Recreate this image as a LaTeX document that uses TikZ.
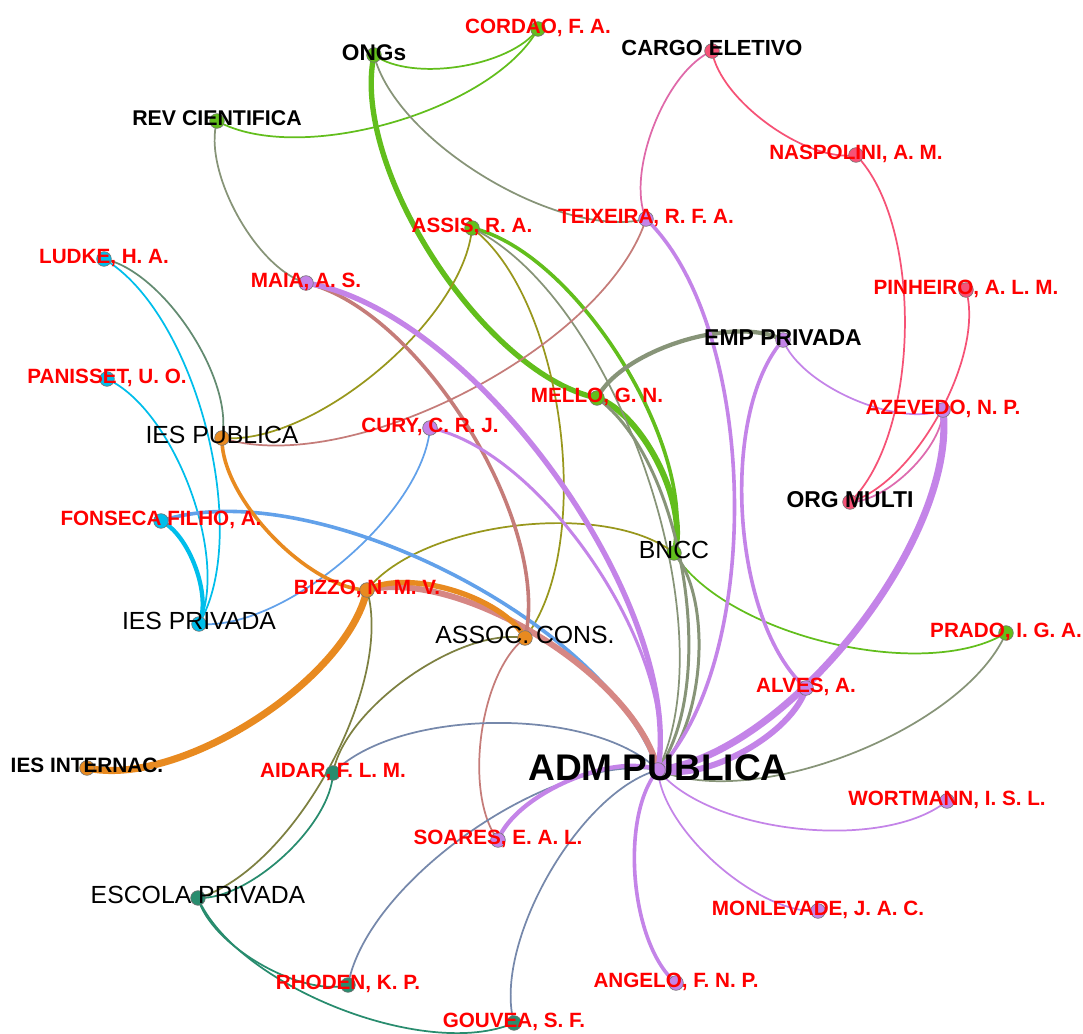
\documentclass[tikz,border=0pt]{standalone}
\usepackage{fontspec}
\setmainfont{Liberation Sans}
\pgfdeclarelayer{paper}
\pgfdeclarelayer{links}
\pgfsetlayers{paper,links,main}

% node colours (one per community)
\definecolor{cG}{RGB}{98,190,28}
\definecolor{cP}{RGB}{196,132,232}
\definecolor{cC}{RGB}{0,190,235}
\definecolor{cO}{RGB}{232,138,32}
\definecolor{cK}{RGB}{246,82,118}
\definecolor{cT}{RGB}{40,140,110}
\definecolor{labred}{RGB}{255,0,0}

\tikzset{
  dot/.style={circle, inner sep=0pt, minimum size=11pt, draw=black!55, line width=0.45pt},
  arcL/.style={bend left=45, looseness=0.72},
  arcR/.style={bend right=45, looseness=0.72},
  link/.style={line cap=round, line width=1.3pt},
  w2/.style={line width=2.25pt},
  w3/.style={line width=2.7pt},
  w4/.style={line width=3.2pt},
  w5/.style={line width=4pt},
  w6/.style={line width=4.5pt},
  w7/.style={line width=5.3pt},
  redlab/.style={font=\fontsize{15.5}{15.5}\selectfont\bfseries, text=labred, inner sep=0pt, text height=11.1pt, text depth=0pt},
  blab/.style={font=\fontsize{#1}{#1}\selectfont\bfseries, text=black, inner sep=0pt, text height=0.716*#1 pt, text depth=0pt},
  blab/.default=16.3,
  reglab/.style={font=\fontsize{18.6}{18.6}\selectfont, text=black, inner sep=0pt, text height=13.3pt, text depth=0pt},
  biglab/.style={font=\fontsize{27.8}{27.8}\selectfont\bfseries, text=black, inner sep=0pt, text height=19.9pt, text depth=0pt},
}

\begin{document}
\begin{tikzpicture}[x=0.75pt, y=-0.75pt]
\useasboundingbox (0,0) rectangle (1083,1034);
\begin{pgfonlayer}{paper}
  \fill[white] (0,0) rectangle (1083,1034);
\end{pgfonlayer}

% ---- nodes ----
\node[dot, fill=cG] (ongs)      at (374,55)  {};
\node[dot, fill=cG] (cordao)    at (538,29)  {};
\node[dot, fill=cK] (cargo)     at (712,51)  {};
\node[dot, fill=cG] (rev)       at (217,121) {};
\node[dot, fill=cK] (naspolini) at (856,155) {};
\node[dot, fill=cG] (assis)     at (472,228) {};
\node[dot, fill=cP] (teixeira)  at (646,219) {};
\node[dot, fill=cC] (ludke)     at (104,259) {};
\node[dot, fill=cP] (maia)      at (306,283) {};
\node[dot, fill=cK] (pinheiro)  at (966,290) {};
\node[dot, fill=cP] (emp)       at (783,340) {};
\node[dot, fill=cC] (panisset)  at (107,379) {};
\node[dot, fill=cG] (mello)     at (597,398) {};
\node[dot, fill=cP] (azevedo)   at (943,410) {};
\node[dot, fill=cP] (cury)      at (430,428) {};
\node[dot, fill=cO] (iespub)    at (222,438) {};
\node[dot, fill=cK] (orgmulti)  at (850,502) {};
\node[dot, fill=cC] (fonseca)   at (161,521) {};
\node[dot, fill=cG] (bncc)      at (674,553) {};
\node[dot, fill=cO] (bizzo)     at (367,590) {};
\node[dot, fill=cC] (iespriv)   at (199,624) {};
\node[dot, fill=cO] (assoc)     at (525,638) {};
\node[dot, fill=cG] (prado)     at (1006,633) {};
\node[dot, fill=cP] (alves)     at (806,688) {};
\node[dot, fill=cP] (adm)       at (658,770) {};
\node[dot, fill=cO] (iesint)    at (87,768)  {};
\node[dot, fill=cT] (aidar)     at (333,773) {};
\node[dot, fill=cP] (wortmann)  at (947,801) {};
\node[dot, fill=cP] (soares)    at (498,840) {};
\node[dot, fill=cT] (escola)    at (198,898) {};
\node[dot, fill=cP] (monlevade) at (818,911) {};
\node[dot, fill=cT] (rhoden)    at (348,985) {};
\node[dot, fill=cP] (angelo)    at (676,983) {};
\node[dot, fill=cT] (gouvea)    at (514,1023) {};

% ---- links (curved, drawn under the nodes) ----
\begin{pgfonlayer}{links}
  % green community
  \draw[link, cG] (ongs.center) to[arcR] (cordao.center);
  \draw[link, cG] (rev.center) to[arcR] (cordao.center);
  \draw[link, w5, cG] (ongs.center) to[arcR] (mello.center);
  \draw[link, w6, cG] (mello.center) to[arcL] (bncc.center);
  \draw[link, w3, cG] (assis.center) to[arcL] (bncc.center);
  \draw[link, cG] (bncc.center) to[arcR] (prado.center);
  % green -- purple
  \draw[link, cG!50!cP!92!black] (assis.center) to[arcL] (adm.center);
  \draw[link, w2, cG!50!cP!92!black] (mello.center) to[arcL] (adm.center);
  \draw[link, w2, cG!50!cP!92!black] (bncc.center) to[arcL] (adm.center);
  \draw[link, w4, cG!50!cP!92!black] (emp.center) to[arcR] (mello.center);
  \draw[link, cG!50!cP!92!black] (ongs.center) to[arcR] (teixeira.center);
  \draw[link, cG!50!cP!92!black] (rev.center) to[arcR] (maia.center);
  \draw[link, cG!50!cP!92!black] (prado.center) to[arcL] (adm.center);
  % green -- orange
  \draw[link, cG!50!cO!92!black] (assis.center) to[arcL] (iespub.center);
  \draw[link, cG!50!cO!92!black] (assis.center) to[arcL] (assoc.center);
  \draw[link, cG!50!cO!92!black] (bizzo.center) to[arcL] (bncc.center);
  % cyan community
  \draw[link, cC!50!cO!85!black] (ludke.center) to[arcL] (iespub.center);
  \draw[link, cC] (ludke.center) to[arcL] (iespriv.center);
  \draw[link, cC] (panisset.center) to[arcL] (iespriv.center);
  \draw[link, w4, cC] (fonseca.center) to[arcL] (iespriv.center);
  \draw[link, w3, cC!50!cP] (fonseca.center) to[arcL] (adm.center);
  \draw[link, cC!50!cP] (iespriv.center) to[arcR] (cury.center);
  % orange community
  \draw[link, w3, cO] (iespub.center) to[arcR] (bizzo.center);
  \draw[link, w7, cO] (bizzo.center) to[arcL] (iesint.center);
  \draw[link, w6, cO!50!cP] (bizzo.center) to[arcL] (adm.center);
  \draw[link, w5, cO] (bizzo.center) to[arcL] (assoc.center);
  \draw[link, w3, cO!50!cP!92!black] (maia.center) to[arcL] (assoc.center);
  \draw[link, cO!50!cP!92!black] (teixeira.center) to[arcL] (iespub.center);
  \draw[link, cO!50!cP!92!black] (soares.center) to[arcL] (assoc.center);
  \draw[link, cO!50!cT!92!black] (bizzo.center) to[arcL] (escola.center);
  \draw[link, cO!50!cT!92!black] (assoc.center) to[arcR] (aidar.center);
  % teal community
  \draw[link, cT] (escola.center) to[arcR] (aidar.center);
  \draw[link, cT] (escola.center) to[arcR] (rhoden.center);
  \draw[link, cT] (escola.center) to[arcR] (gouvea.center);
  \draw[link, cT!50!cP] (aidar.center) to[arcL] (adm.center);
  \draw[link, cT!50!cP] (rhoden.center) to[arcL] (adm.center);
  \draw[link, cT!50!cP] (gouvea.center) to[arcL] (adm.center);
  % pink community
  \draw[link, cK] (cargo.center) to[arcR] (naspolini.center);
  \draw[link, cK!55!cP] (cargo.center) to[arcR] (teixeira.center);
  \draw[link, cK] (naspolini.center) to[arcL] (orgmulti.center);
  \draw[link, cK] (pinheiro.center) to[arcL] (orgmulti.center);
  \draw[link, cK!50!cP] (azevedo.center) to[arcL] (orgmulti.center);
  % purple community
  \draw[link, w3, cP] (teixeira.center) to[arcL] (adm.center);
  \draw[link, w5, cP] (maia.center) to[arcL] (adm.center);
  \draw[link, w2, cP] (cury.center) to[arcL] (adm.center);
  \draw[link, w4, cP] (soares.center) to[arcL] (adm.center);
  \draw[link, cP] (adm.center) to[arcR] (wortmann.center);
  \draw[link, cP] (adm.center) to[arcR] (monlevade.center);
  \draw[link, w3, cP] (adm.center) to[arcR] (angelo.center);
  \draw[link, w3, cP] (emp.center) to[arcR] (alves.center);
  \draw[link, cP] (emp.center) to[arcR] (azevedo.center);
  \draw[link, w7, cP] (azevedo.center) to[arcL] (adm.center);
  \draw[link, w6, cP] (alves.center) to[arcL] (adm.center);
\end{pgfonlayer}

% ---- labels ----
\node[blab=17]   (ongsL)      at ([yshift=2.25pt]ongs.center)      {ONGs};
\node[redlab]    (cordaoL)    at ([yshift=2.25pt]cordao.center)    {CORDAO, F. A.};
\node[blab=16.4] (cargoL)     at ([yshift=2.25pt]cargo.center)     {CARGO ELETIVO};
\node[blab=16]   (revL)       at ([yshift=2.25pt]rev.center)       {REV CIENTIFICA};
\node[redlab]    (naspoliniL) at ([yshift=2.25pt]naspolini.center) {NASPOLINI, A. M.};
\node[redlab]    (assisL)     at ([yshift=2.25pt]assis.center)     {ASSIS, R. A.};
\node[redlab]    (teixeiraL)  at ([yshift=2.25pt]teixeira.center)  {TEIXEIRA, R. F. A.};
\node[redlab]    (ludkeL)     at ([yshift=2.25pt]ludke.center)     {LUDKE, H. A.};
\node[redlab]    (maiaL)      at ([yshift=2.25pt]maia.center)      {MAIA, A. S.};
\node[redlab]    (pinheiroL)  at ([yshift=2.25pt]pinheiro.center)  {PINHEIRO, A. L. M.};
\node[blab=17.2] (empL)       at ([yshift=2.25pt]emp.center)       {EMP PRIVADA};
\node[redlab]    (panissetL)  at ([yshift=2.25pt]panisset.center)  {PANISSET, U. O.};
\node[redlab]    (melloL)     at ([yshift=2.25pt]mello.center)     {MELLO, G. N.};
\node[redlab]    (azevedoL)   at ([yshift=2.25pt]azevedo.center)   {AZEVEDO, N. P.};
\node[redlab]    (curyL)      at ([yshift=2.25pt]cury.center)      {CURY, C. R. J.};
\node[reglab]    (iespubL)    at ([yshift=2.25pt]iespub.center)    {IES PUBLICA};
\node[blab=17.2] (orgmultiL)  at ([yshift=2.25pt]orgmulti.center)  {ORG MULTI};
\node[redlab]    (fonsecaL)   at ([yshift=2.25pt]fonseca.center)   {FONSECA FILHO, A.};
\node[reglab]    (bnccL)      at ([yshift=2.25pt]bncc.center)      {BNCC};
\node[redlab]    (bizzoL)     at ([yshift=2.25pt]bizzo.center)     {BIZZO, N. M. V.};
\node[reglab]    (iesprivL)   at ([yshift=2.25pt]iespriv.center)   {IES PRIVADA};
\node[reglab]    (assocL)     at ([yshift=2.25pt]assoc.center)     {ASSOC. CONS.};
\node[redlab]    (pradoL)     at ([yshift=2.25pt]prado.center)     {PRADO, I. G. A.};
\node[redlab]    (alvesL)     at ([yshift=2.25pt]alves.center)     {ALVES, A.};
\node[biglab]    (admL)       at ([yshift=2.25pt]adm.center)       {ADM PUBLICA};
\node[blab=15.6] (iesintL)    at ([yshift=2.25pt]iesint.center)    {IES INTERNAC.};
\node[redlab]    (aidarL)     at ([yshift=2.25pt]aidar.center)     {AIDAR, F. L. M.};
\node[redlab]    (wortmannL)  at ([yshift=2.25pt]wortmann.center)  {WORTMANN, I. S. L.};
\node[redlab]    (soaresL)    at ([yshift=2.25pt]soares.center)    {SOARES, E. A. L.};
\node[reglab]    (escolaL)    at ([yshift=2.25pt]escola.center)    {ESCOLA PRIVADA};
\node[redlab]    (monlevadeL) at ([yshift=2.25pt]monlevade.center) {MONLEVADE, J. A. C.};
\node[redlab]    (rhodenL)    at ([yshift=2.25pt]rhoden.center)    {RHODEN, K. P.};
\node[redlab]    (angeloL)    at ([yshift=2.25pt]angelo.center)    {ANGELO, F. N. P.};
\node[redlab]    (gouveaL)    at ([yshift=2.25pt]gouvea.center)    {GOUVEA, S. F.};
\end{tikzpicture}
\end{document}
